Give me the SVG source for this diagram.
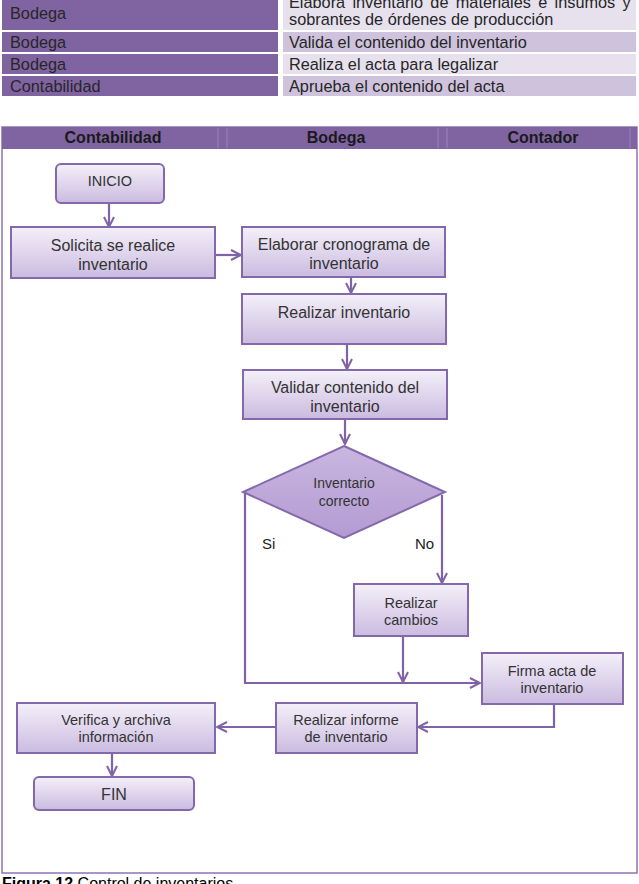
<svg xmlns="http://www.w3.org/2000/svg" width="639" height="884" viewBox="0 0 639 884">
<style>
text{font-family:"Liberation Sans",Arial,sans-serif;fill:#262626}
.tl{font-size:16.3px}
.hd{font-size:16px;font-weight:bold;fill:#1a1a1a}
.nt{font-size:16px;text-anchor:middle;fill:#333}
.ns{font-size:14.5px;text-anchor:middle;fill:#333}
.box{fill:url(#g);stroke:#8468AC;stroke-width:2}
.dia{fill:url(#gd);stroke:#8468AC;stroke-width:2}
.ln{fill:none;stroke:#7F62A8;stroke-width:2.2}
.sep{stroke:#9A82BE;stroke-width:1}
</style>
<defs>
<linearGradient id="g" x1="0" y1="0" x2="0" y2="1">
<stop offset="0" stop-color="#F4F0F9"/>
<stop offset="1" stop-color="#CBBBE0"/>
</linearGradient>
<linearGradient id="gd" x1="0" y1="0" x2="0" y2="1">
<stop offset="0" stop-color="#C9B6E0"/>
<stop offset="1" stop-color="#B39BD2"/>
</linearGradient>
<marker id="a" viewBox="0 0 12 12" refX="11" refY="6" markerWidth="12" markerHeight="12" markerUnits="userSpaceOnUse" orient="auto">
<path d="M1,1 L11,6 L1,11" fill="none" stroke="#7F62A8" stroke-width="2"/>
</marker>
</defs>

<g id="table">
<rect x="2" y="-5" width="276" height="35" fill="#8064A2"/>
<rect x="283" y="-5" width="353" height="35" fill="#E7E1EE"/>
<rect x="2" y="32" width="276" height="20" fill="#8064A2"/>
<rect x="283" y="32" width="353" height="20" fill="#CEC2DD"/>
<rect x="2" y="54" width="276" height="20" fill="#8064A2"/>
<rect x="283" y="54" width="353" height="20" fill="#E7E1EE"/>
<rect x="2" y="76" width="276" height="20" fill="#8064A2"/>
<rect x="283" y="76" width="353" height="20" fill="#CEC2DD"/>
<text class="tl" x="10" y="19">Bodega</text>
<text class="tl" x="289" y="8" word-spacing="2.8">Elabora inventario de materiales e insumos y</text>
<text class="tl" x="289" y="25">sobrantes de órdenes de producción</text>
<text class="tl" x="10" y="48">Bodega</text>
<text class="tl" x="289" y="48">Valida el contenido del inventario</text>
<text class="tl" x="10" y="70">Bodega</text>
<text class="tl" x="289" y="70">Realiza el acta para legalizar</text>
<text class="tl" x="10" y="92">Contabilidad</text>
<text class="tl" x="289" y="92">Aprueba el contenido del acta</text>
</g>

<g id="frame">
<rect x="2" y="127" width="635" height="746" fill="#fff" stroke="#8C74B4" stroke-width="1.5"/>
<rect x="2" y="127" width="635" height="22" fill="#8064A2"/>
<line class="sep" x1="218" y1="128" x2="218" y2="148"/>
<line class="sep" x1="227" y1="128" x2="227" y2="148"/>
<line class="sep" x1="438" y1="128" x2="438" y2="148"/>
<line class="sep" x1="447" y1="128" x2="447" y2="148"/>
<line class="sep" x1="630" y1="128" x2="630" y2="148"/>
<text class="hd" x="113" y="143" text-anchor="middle">Contabilidad</text>
<text class="hd" x="336" y="143" text-anchor="middle">Bodega</text>
<text class="hd" x="543" y="143" text-anchor="middle">Contador</text>
</g>

<g id="connectors">
<line class="ln" x1="109" y1="203" x2="109" y2="227" marker-end="url(#a)"/>
<line class="ln" x1="215" y1="255" x2="241" y2="255" marker-end="url(#a)"/>
<line class="ln" x1="351" y1="277" x2="351" y2="293" marker-end="url(#a)"/>
<line class="ln" x1="347" y1="344" x2="347" y2="369" marker-end="url(#a)"/>
<line class="ln" x1="345" y1="419" x2="345" y2="444" marker-end="url(#a)"/>
<polyline class="ln" points="245,492 245,683 480,683" marker-end="url(#a)"/>
<line class="ln" x1="442" y1="495" x2="442" y2="583" marker-end="url(#a)"/>
<line class="ln" x1="403" y1="636" x2="403" y2="682" marker-end="url(#a)"/>
<polyline class="ln" points="554,704 554,727 418,727" marker-end="url(#a)"/>
<line class="ln" x1="276" y1="727" x2="217" y2="727" marker-end="url(#a)"/>
<line class="ln" x1="112" y1="753" x2="112" y2="776" marker-end="url(#a)"/>
<text class="tl" x="262" y="549" style="font-size:15px;fill:#222">Si</text>
<text class="tl" x="415" y="549" style="font-size:15px;fill:#222">No</text>
</g>

<g id="inicio">
<rect class="box" x="56" y="164" width="108" height="39" rx="5"/>
<text class="ns" x="110" y="186">INICIO</text>
</g>
<g id="solicita">
<rect class="box" x="11" y="227" width="204" height="51"/>
<text class="nt" x="113" y="251">Solicita se realice</text>
<text class="nt" x="113" y="270">inventario</text>
</g>
<g id="elaborar">
<rect class="box" x="242" y="227" width="203" height="50"/>
<text class="nt" x="344" y="250">Elaborar cronograma de</text>
<text class="nt" x="344" y="269">inventario</text>
</g>
<g id="realizar">
<rect class="box" x="242" y="294" width="204" height="50"/>
<text class="nt" x="344" y="318">Realizar inventario</text>
</g>
<g id="validar">
<rect class="box" x="243" y="370" width="204" height="49"/>
<text class="nt" x="345" y="393">Validar contenido del</text>
<text class="nt" x="345" y="412">inventario</text>
</g>
<g id="decision">
<polygon class="dia" points="344,446 445,492 344,538 243,492"/>
<text class="ns" x="344" y="488" style="font-size:14px">Inventario</text>
<text class="ns" x="344" y="506" style="font-size:14px">correcto</text>
</g>
<g id="cambios">
<rect class="box" x="354" y="584" width="114" height="52"/>
<text class="ns" x="411" y="608">Realizar</text>
<text class="ns" x="411" y="625">cambios</text>
</g>
<g id="firma">
<rect class="box" x="482" y="653" width="141" height="51"/>
<text class="ns" x="552" y="676">Firma acta de</text>
<text class="ns" x="552" y="693">inventario</text>
</g>
<g id="informe">
<rect class="box" x="276" y="703" width="141" height="50"/>
<text class="ns" x="346" y="725">Realizar informe</text>
<text class="ns" x="346" y="742">de inventario</text>
</g>
<g id="verifica">
<rect class="box" x="17" y="703" width="198" height="50"/>
<text class="ns" x="116" y="725">Verifica y archiva</text>
<text class="ns" x="116" y="742">información</text>
</g>
<g id="fin">
<rect class="box" x="34" y="777" width="160" height="33" rx="5"/>
<text class="nt" x="114" y="800">FIN</text>
</g>

<g id="caption">
<text x="2" y="889" style="font-size:16px;fill:#000"><tspan font-weight="bold">Figura 12</tspan> Control de inventarios</text>
</g>
</svg>
